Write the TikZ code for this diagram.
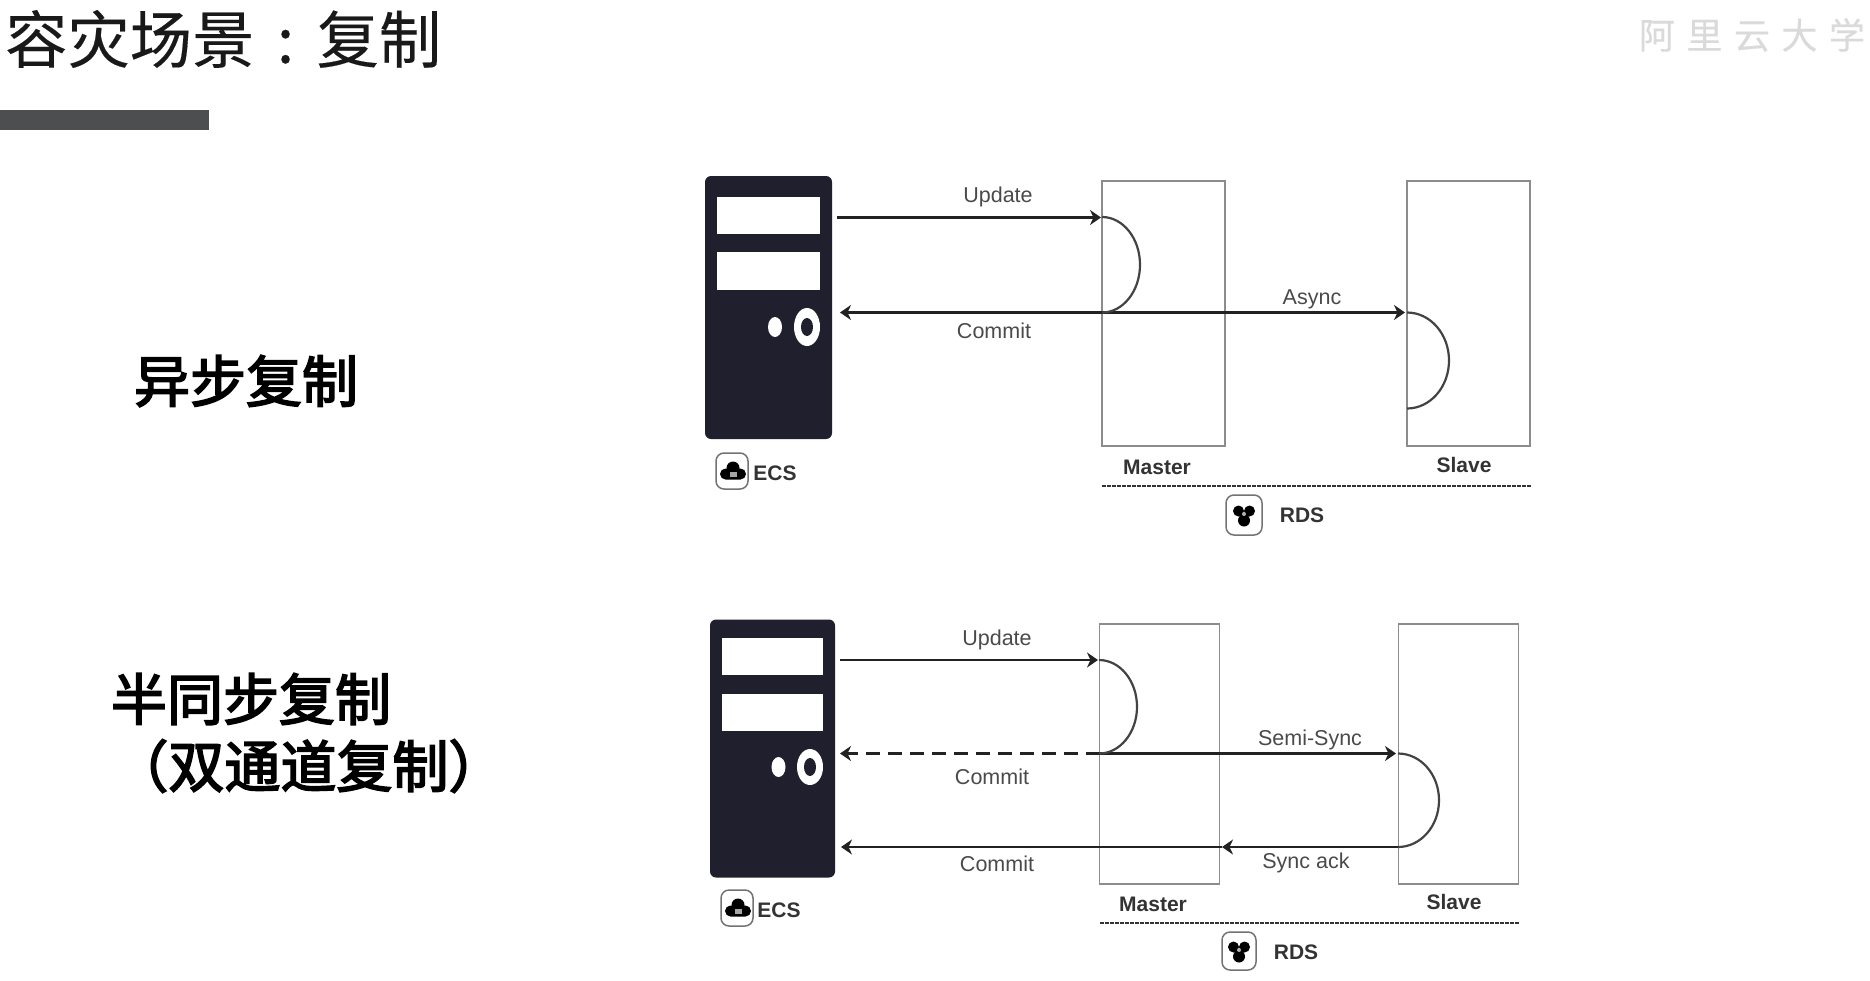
\documentclass[tikz,border=0pt]{standalone}
\usepackage{fontspec}
\setmainfont{Liberation Sans}
\newfontfamily\cjk[FakeBold=0.25]{Noto Sans CJK SC}
\newfontfamily\cjkmid[FakeBold=3]{Noto Sans CJK SC}
\usetikzlibrary{arrows.meta}
\definecolor{srv}{HTML}{1F1F2D}
\definecolor{barc}{HTML}{4D4E50}
\definecolor{boxc}{HTML}{8C8C8C}
\definecolor{linec}{HTML}{222222}
\definecolor{txt}{HTML}{4A4A4A}
\definecolor{btxt}{HTML}{333333}
\definecolor{wm}{HTML}{DADADA}
\tikzset{
  tip/.style={-{Stealth[length=11pt,width=15pt,inset=3.5pt]}},
  flow/.style={tip,draw=linec,line width=2.2pt},
  dashflow/.style={flow,dash pattern=on 14pt off 8pt},
  loopcurve/.style={draw=linec!85!white,line width=2.2pt},
  boxrect/.style={draw=boxc,line width=1.7pt,inner sep=0pt,fill=none},
  serverbody/.style={fill=srv,draw=none,rounded corners=6pt},
  winrect/.style={fill=white,draw=none},
  lbl/.style={inner sep=0pt,text=txt,font=\fontsize{21.5pt}{24pt}\selectfont},
  blbl/.style={inner sep=0pt,text=btxt,font=\fontsize{21pt}{24pt}\selectfont\bfseries},
  side/.style={inner sep=0pt,text=black,font=\cjkmid\fontsize{56pt}{60pt}\selectfont},
  dotline/.style={draw=btxt,line width=2pt,dash pattern=on 3.5pt off 1.5pt},
  iconbox/.style={draw=black!55,line width=1.5pt,rounded corners=8pt,fill=white},
  ecsglyph/.pic={
    \fill[black] (0,-4) circle[radius=6.5pt] (-7.5,2) circle[radius=5.5pt] (7.5,2) circle[radius=5.5pt] (-7.5,-1) rectangle (7.5,7.5);
    \fill[black!35] (-3.5,0) rectangle (3.5,5);
  },
  rdsglyph/.pic={
    \fill[black] (-5.5,-4) circle[radius=5.5pt] (5.5,-4) circle[radius=5.5pt] (0,5.5) circle[radius=6pt];
    \fill[black!30] (0,-1) circle[radius=2pt];
  },
}
\begin{document}
\begin{tikzpicture}[x=1pt,y=-1pt]
\path[use as bounding box,fill=white] (0,0) rectangle (1870,980);

% heading
\node[anchor=west,inner sep=0pt,text=black!90,font=\cjk\fontsize{62.3pt}{66pt}\selectfont] (title) at (5,39) {容灾场景\makebox[1em]{:}复制};
\fill[barc] (0,110) rectangle (209,130);
\node[anchor=center,inner sep=0pt,text=wm,font=\cjk\fontsize{36pt}{40pt}\selectfont] (wmark) at (1752,35) {阿\kern11.5pt里\kern11.5pt云\kern11.5pt大\kern11.5pt学};

% side labels
\node[side] (asynclabel) at (246,381) {异步复制};
\node[side] (semilabel) at (251,699) {半同步复制};
\node[side] (dual) at (308.5,766) {（双通道复制）};

% ---------- upper diagram
\node[serverbody,minimum width=127pt,minimum height=263pt,inner sep=0pt] (srvA) at (768.5,307.5) {};
\fill[winrect] (717,197) rectangle (820,234);
\fill[winrect] (717,252) rectangle (820,290);
\fill[white] (775,327) ellipse[x radius=7pt,y radius=10pt];
\fill[white] (807,327) ellipse[x radius=13pt,y radius=19pt];
\fill[srv] (807,327) ellipse[x radius=6pt,y radius=9pt];

\node[boxrect,minimum width=123pt,minimum height=265pt] (masterA) at (1163.5,313.5) {};
\node[boxrect,minimum width=123pt,minimum height=265pt] (slaveA) at (1468.5,313.5) {};

\coordinate (aUs) at (837,217.5);
\coordinate (aUe) at (1101,217.5);
\coordinate (aLs) at (1102,217);
\coordinate (aMid) at (1103,312.5);
\coordinate (aCe) at (840,312.5);
\coordinate (aAe) at (1405,312.5);
\coordinate (aSs) at (1407,312.5);
\draw[flow] (aUs) -- (aUe);
\draw[flow] (aMid) -- (aCe);
\draw[flow] (aMid) -- (aAe);
\draw[loopcurve] (aLs) arc[start angle=90,end angle=-90,x radius=38pt,y radius=47.75pt];
\draw[loopcurve] (aSs) arc[start angle=90,end angle=-90,x radius=42pt,y radius=48pt];

\node[lbl] (aUpdate) at (998,197) {Update};
\node[lbl] (aCommit) at (994,331) {Commit};
\node[lbl] (aAsync) at (1312,299) {Async};
\node[blbl] (aMaster) at (1157,467) {Master};
\node[blbl] (aSlave) at (1464,465) {Slave};
\coordinate (aDl) at (1102,486);
\coordinate (aDr) at (1532,486);
\draw[dotline] (aDl) -- (aDr);
\node[iconbox,minimum width=32pt,minimum height=36pt,inner sep=0pt] (aEcsIcon) at (732,471) {};
\pic at (733,472) {ecsglyph};
\node[blbl] (aEcs) at (775,473) {ECS};
\node[iconbox,minimum width=36pt,minimum height=40pt,inner sep=0pt] (aRdsIcon) at (1244,515) {};
\pic at (1244,515) {rdsglyph};
\node[blbl] (aRds) at (1302,515) {RDS};

% ---------- lower diagram
\node[serverbody,minimum width=125pt,minimum height=258pt,inner sep=0pt] (srvB) at (772.5,748.5) {};
\fill[winrect] (722,638) rectangle (823,675);
\fill[winrect] (722,694) rectangle (823,731);
\fill[white] (778.5,767) ellipse[x radius=7pt,y radius=10pt];
\fill[white] (810,767) ellipse[x radius=13pt,y radius=18pt];
\fill[srv] (810,767) ellipse[x radius=6pt,y radius=9pt];

\node[boxrect,minimum width=120pt,minimum height=260pt] (masterB) at (1159.5,754) {};
\node[boxrect,minimum width=120pt,minimum height=260pt] (slaveB) at (1458.5,754) {};

\coordinate (bUs) at (840,660);
\coordinate (bUe) at (1098,660);
\coordinate (bLs) at (1099,660);
\coordinate (bMid) at (1100,753.5);
\coordinate (bCe) at (840,753.5);
\coordinate (bSe) at (1396,753.5);
\coordinate (bSs) at (1398,753.5);
\coordinate (bAk) at (1398,847);
\coordinate (bAe) at (1222,847);
\coordinate (bCe2) at (841,847);
\draw[flow] (bUs) -- (bUe);
\draw[dashflow] (bMid) -- (bCe);
\draw[flow] (bMid) -- (bSe);
\draw[flow] (bAk) -- (bAe);
\draw[flow] (bAe) -- (bCe2);
\draw[loopcurve] (bLs) arc[start angle=90,end angle=-90,x radius=38pt,y radius=46.75pt];
\draw[loopcurve] (bSs) arc[start angle=90,end angle=-90,x radius=41pt,y radius=46.75pt];

\node[lbl] (bUpdate) at (997,640) {Update};
\node[lbl] (bCommitA) at (992,777) {Commit};
\node[lbl] (bCommitB) at (997,864) {Commit};
\node[lbl] (bSemi) at (1310,740) {Semi-Sync};
\node[lbl] (bAck) at (1306,863) {Sync ack};
\node[blbl] (bMaster) at (1153,904) {Master};
\node[blbl] (bSlave) at (1454,902) {Slave};
\coordinate (bDl) at (1100,923);
\coordinate (bDr) at (1520,923);
\draw[dotline] (bDl) -- (bDr);
\node[iconbox,minimum width=32pt,minimum height=36pt,inner sep=0pt] (bEcsIcon) at (737,908) {};
\pic at (738,909) {ecsglyph};
\node[blbl] (bEcs) at (779,910) {ECS};
\node[iconbox,minimum width=34pt,minimum height=38pt,inner sep=0pt] (bRdsIcon) at (1239,951) {};
\pic at (1239,951) {rdsglyph};
\node[blbl] (bRds) at (1296,952) {RDS};
\end{tikzpicture}
\end{document}
